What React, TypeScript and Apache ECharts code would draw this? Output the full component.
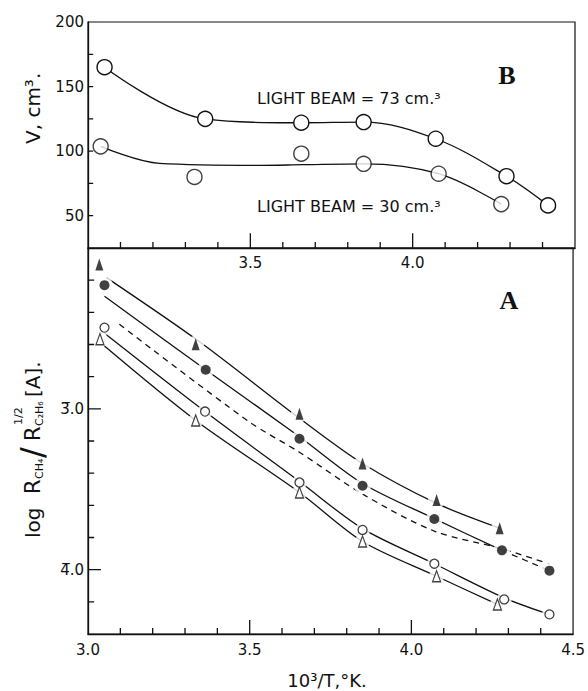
import React, { useEffect, useRef } from 'react';
import * as echarts from 'echarts';

// ---------- Panel B (top): V, cm3 vs 10^3/T ----------
const beam73X = [3.051, 3.361, 3.657, 3.849, 4.071, 4.289, 4.417];
const beam73V = [165, 125, 122, 122.5, 109.6, 80.6, 58];
const beam30X = [3.039, 3.328, 3.657, 3.849, 4.08, 4.273];
const beam30V = [103.7, 80, 98, 90.2, 82.5, 59];
const beam30CurveX = [3.039, 3.22, 3.53, 3.66, 3.849, 4.08, 4.273];
const beam30CurveV = [103.7, 90.5, 89, 89.5, 90.2, 82.5, 59];

// ---------- Panel A (bottom): log ratio vs 10^3/T ----------
const filledTriX = [3.035, 3.333, 3.654, 3.849, 4.078, 4.273];
const filledTriY = [-2.103, -2.598, -3.031, -3.34, -3.567, -3.742];
const filledDotX = [3.051, 3.364, 3.654, 3.849, 4.071, 4.28, 4.427];
const filledDotY = [-2.231, -2.757, -3.186, -3.478, -3.685, -3.88, -4.006];
const openDotX = [3.051, 3.362, 3.654, 3.849, 4.071, 4.287, 4.427];
const openDotY = [-2.495, -3.017, -3.458, -3.753, -3.963, -4.185, -4.278];
const openTriX = [3.037, 3.333, 3.654, 3.849, 4.078, 4.266];
const openTriY = [-2.567, -3.072, -3.52, -3.825, -4.041, -4.216];

// curves drawn through the points
const filledTriLineX = [3.057, 3.347, 3.652, 3.849, 4.078, 4.273];
const filledTriLineY = [-2.184, -2.586, -3.056, -3.34, -3.588, -3.742];
const filledDotLineX = [3.051, 3.364, 3.654, 3.849, 4.071, 4.28];
const filledDotLineY = [-2.3, -2.757, -3.173, -3.464, -3.683, -3.88];
const filledDotDashX = [4.28, 4.427];
const filledDotDashY = [-3.88, -4.006];
const dashedCurveX = [3.097, 3.498, 3.654, 3.849, 4.071, 4.28, 4.427];
const dashedCurveY = [-2.474, -3.08, -3.27, -3.53, -3.76, -3.87, -3.965];
const openDotLineX = [3.051, 3.362, 3.654, 3.849, 4.071, 4.287, 4.427];
const openDotLineY = [-2.53, -3.017, -3.452, -3.745, -3.963, -4.175, -4.278];
const openTriLineX = [3.051, 3.333, 3.654, 3.849, 4.078, 4.266];
const openTriLineY = [-2.61, -3.072, -3.52, -3.825, -4.041, -4.216];

// ticks and tick labels
const xMinorTicks = [3.1, 3.2, 3.3, 3.4, 3.6, 3.7, 3.8, 3.9, 4.1, 4.2, 4.3, 4.4];
const xMajorTicks = [3.5, 4.0];
const xLabelsTop = [3.5, 4.0];
const vTicks = [50, 75, 100, 125, 150, 175];
const logMinorTicks = [-4.2, -3.8, -3.6, -3.4, -3.2, -2.8, -2.6, -2.4, -2.2];
const logMajorTicks = [-4.0, -3.0];
const logLabels: Record<string, string> = { '-3': '3\u0305.0', '-4': '4\u0305.0' };

const SANS = "'DejaVu Sans', 'Noto Sans', sans-serif";
const SERIF = "'Liberation Serif', 'DejaVu Serif', serif";
const INK = '#111';

const pairs = (xs: number[], ys: number[]) => xs.map((x, i) => [x, ys[i]]);
const near = (a: number, b: number) => Math.abs(a - b) < 1e-6;

export default function App() {
  const ref = useRef<HTMLDivElement>(null);
  useEffect(() => {
    if (!ref.current) return;
    const chart = echarts.init(ref.current, undefined, { renderer: 'svg' });

    const al = () => ({ show: true, lineStyle: { color: INK, width: 1.3 } });
    const lineBase = {
      type: 'line',
      symbol: 'none',
      smooth: 0.3,
      silent: true,
      z: 2,
      lineStyle: { color: INK, width: 1.3 },
    };
    const halo = (xs: number[], ys: number[], size: number) => ({
      type: 'scatter',
      xAxisIndex: 1,
      yAxisIndex: 1,
      data: pairs(xs, ys),
      symbol: 'circle',
      symbolSize: size,
      itemStyle: { color: '#fff' },
      silent: true,
      z: 3,
    });
    // tick marks: short broken line segments placed through the axis scales
    const ticks = (values: number[], gi: number, dir: 'x' | 'y', anchor: number, len: number) => ({
      type: 'line',
      xAxisIndex: gi,
      yAxisIndex: gi,
      symbol: 'none',
      silent: true,
      clip: false,
      connectNulls: false,
      z: 10,
      lineStyle: { color: INK, width: 1.3 },
      data: values.flatMap((v) =>
        dir === 'x'
          ? [[v, anchor], [v, anchor + len], [v, '-']]
          : [[anchor, v], [anchor + len, v], ['-', v]]
      ),
    });

    const option: any = {
      animation: false,
      grid: [
        { left: 88, right: 13, top: 22, height: 226, show: true, borderColor: INK, borderWidth: 1.2 },
        { left: 88, right: 13, top: 248, height: 386, show: true, borderColor: INK, borderWidth: 1.2 },
      ],
      xAxis: [
        {
          gridIndex: 0, type: 'value', min: 3.0, max: 4.5, interval: 0.5,
          axisLine: al(), axisTick: { show: false }, splitLine: { show: false },
          axisLabel: {
            show: true, color: INK, fontSize: 15, fontFamily: SANS, margin: 7,
            formatter: (v: number) => (xLabelsTop.some((t) => near(t, v)) ? v.toFixed(1) : ''),
          },
        },
        {
          gridIndex: 1, type: 'value', min: 3.0, max: 4.5, interval: 0.5,
          axisLine: al(), axisTick: { show: false }, splitLine: { show: false },
          axisLabel: { show: true, color: INK, fontSize: 15, fontFamily: SANS, margin: 8, formatter: (v: number) => v.toFixed(1) },
        },
      ],
      yAxis: [
        {
          gridIndex: 0, type: 'value', min: 25, max: 200, interval: 25,
          axisLine: al(), axisTick: { show: false }, splitLine: { show: false },
          axisLabel: {
            show: true, color: INK, fontSize: 15, fontFamily: SANS, margin: 4,
            formatter: (v: number) => (Math.round(v) % 50 === 0 ? String(Math.round(v)) : ''),
          },
        },
        {
          gridIndex: 1, type: 'value', min: -4.4, max: -2.0, interval: 0.2,
          axisLine: al(), axisTick: { show: false }, splitLine: { show: false },
          axisLabel: {
            show: true, color: INK, fontSize: 15, fontFamily: SANS, margin: 4,
            formatter: (v: number) => {
              const r = Math.round(v);
              return near(v, r) && logLabels[String(r)] ? logLabels[String(r)] : '';
            },
          },
        },
      ],
      series: [
        // ---- ticks (lengths in axis units: ~6 px minor, ~14 px major) ----
        ticks(xMinorTicks, 0, 'x', 25, 4.7),
        ticks(xMajorTicks, 0, 'x', 25, 11.5),
        ticks(vTicks, 0, 'y', 3.0, 0.016),
        ticks(xMinorTicks, 1, 'x', -4.4, 0.037),
        ticks(xMajorTicks, 1, 'x', -4.4, 0.087),
        ticks(logMinorTicks, 1, 'y', 3.0, 0.019),
        ticks(logMajorTicks, 1, 'y', 3.0, 0.04),
        // ---- panel B ----
        {
          type: 'line', xAxisIndex: 0, yAxisIndex: 0, data: pairs(beam30CurveX, beam30CurveV),
          symbol: 'none', smooth: 0.35, silent: true, z: 2, lineStyle: { color: INK, width: 1.3 },
        },
        {
          type: 'line', xAxisIndex: 0, yAxisIndex: 0, data: pairs(beam73X, beam73V),
          smooth: 0.35, silent: true, z: 3, symbol: 'circle', symbolSize: 15, showSymbol: true,
          lineStyle: { color: INK, width: 1.3 },
          itemStyle: { color: '#fff', borderColor: INK, borderWidth: 1.4 },
        },
        {
          type: 'scatter', xAxisIndex: 0, yAxisIndex: 0, data: pairs(beam30X, beam30V),
          symbol: 'circle', symbolSize: 15, silent: true, z: 4,
          itemStyle: { color: '#fff', borderColor: INK, borderWidth: 1.4 },
        },
        // ---- panel A: curves ----
        { ...lineBase, xAxisIndex: 1, yAxisIndex: 1, data: pairs(filledTriLineX, filledTriLineY) },
        { ...lineBase, xAxisIndex: 1, yAxisIndex: 1, data: pairs(filledDotLineX, filledDotLineY) },
        { ...lineBase, xAxisIndex: 1, yAxisIndex: 1, data: pairs(filledDotDashX, filledDotDashY), lineStyle: { color: INK, width: 1.3, type: [6, 5] } },
        { ...lineBase, xAxisIndex: 1, yAxisIndex: 1, data: pairs(dashedCurveX, dashedCurveY), lineStyle: { color: INK, width: 1.3, type: [6, 5] } },
        { ...lineBase, xAxisIndex: 1, yAxisIndex: 1, data: pairs(openDotLineX, openDotLineY) },
        { ...lineBase, xAxisIndex: 1, yAxisIndex: 1, data: pairs(openTriLineX, openTriLineY) },
        // ---- panel A: white gaps around markers ----
        halo(filledTriX, filledTriY, 17),
        halo(filledDotX, filledDotY, 17),
        halo(openDotX, openDotY, 15),
        halo(openTriX, openTriY, 15),
        // ---- panel A: markers ----
        {
          type: 'scatter', xAxisIndex: 1, yAxisIndex: 1, data: pairs(filledTriX, filledTriY),
          symbol: 'triangle', symbolSize: [8, 12], silent: true, z: 5, itemStyle: { color: INK },
        },
        {
          type: 'scatter', xAxisIndex: 1, yAxisIndex: 1, data: pairs(filledDotX, filledDotY),
          symbol: 'circle', symbolSize: 10, silent: true, z: 5, itemStyle: { color: INK },
        },
        {
          type: 'scatter', xAxisIndex: 1, yAxisIndex: 1, data: pairs(openTriX, openTriY),
          symbol: 'triangle', symbolSize: [8, 11], silent: true, z: 5,
          itemStyle: { color: '#fff', borderColor: INK, borderWidth: 1.3 },
        },
        {
          type: 'scatter', xAxisIndex: 1, yAxisIndex: 1, data: pairs(openDotX, openDotY),
          symbol: 'circle', symbolSize: 9, silent: true, z: 6,
          itemStyle: { color: '#fff', borderColor: INK, borderWidth: 1.3 },
        },
      ],
      graphic: [
        { type: 'text', x: 257, y: 98, style: { text: 'LIGHT BEAM = 73 cm.\u00b3', fontSize: 16, fontFamily: SANS, fill: INK, verticalAlign: 'middle', align: 'left' } },
        { type: 'text', x: 257, y: 206, style: { text: 'LIGHT BEAM = 30 cm.\u00b3', fontSize: 16, fontFamily: SANS, fill: INK, verticalAlign: 'middle', align: 'left' } },
        { type: 'text', x: 507, y: 75, style: { text: 'B', fontSize: 26, fontWeight: 'bold', fontFamily: SERIF, fill: INK, verticalAlign: 'middle', align: 'center' } },
        { type: 'text', x: 509, y: 300, style: { text: 'A', fontSize: 26, fontWeight: 'bold', fontFamily: SERIF, fill: INK, verticalAlign: 'middle', align: 'center' } },
        { type: 'text', x: 327, y: 680, style: { text: '10\u00b3/T,\u00b0K.', fontSize: 18, fontFamily: SANS, fill: INK, verticalAlign: 'middle', align: 'center' } },
        {
          type: 'group', x: 33, y: 144, rotation: Math.PI / 2,
          children: [
            { type: 'text', x: 0, y: 0, style: { text: 'V, cm\u00b3.', fontSize: 20, fontFamily: SANS, fill: INK, verticalAlign: 'middle', align: 'left' } },
          ],
        },
        {
          type: 'group', x: 33, y: 538, rotation: Math.PI / 2,
          children: [
            { type: 'text', x: 0, y: 0, style: { text: 'log', fontSize: 20, fontFamily: SANS, fill: INK, verticalAlign: 'middle', align: 'left' } },
            { type: 'text', x: 44, y: 0, style: { text: 'R', fontSize: 21, fontFamily: SANS, fill: INK, verticalAlign: 'middle', align: 'left' } },
            { type: 'text', x: 59, y: 6, style: { text: 'CH\u2084', fontSize: 11, fontFamily: SANS, fill: INK, verticalAlign: 'middle', align: 'left' } },
            { type: 'text', x: 80, y: -1, style: { text: '/', fontSize: 32, fontFamily: SANS, fill: INK, verticalAlign: 'middle', align: 'left' } },
            { type: 'text', x: 97, y: 0, style: { text: 'R', fontSize: 21, fontFamily: SANS, fill: INK, verticalAlign: 'middle', align: 'left' } },
            { type: 'text', x: 113, y: -15, style: { text: '1/2', fontSize: 11, fontFamily: SANS, fill: INK, verticalAlign: 'middle', align: 'left' } },
            { type: 'text', x: 112, y: 6, style: { text: 'C\u2082H\u2086', fontSize: 11, fontFamily: SANS, fill: INK, verticalAlign: 'middle', align: 'left' } },
            { type: 'text', x: 141, y: 0, style: { text: '[A].', fontSize: 20, fontFamily: SANS, fill: INK, verticalAlign: 'middle', align: 'left' } },
          ],
        },
      ],
    };

    chart.setOption(option);
    return () => chart.dispose();
  }, []);

  return (
    <div
      ref={ref}
      style={{ position: 'absolute', left: 0, top: 0, width: 588, height: 691, background: '#fff' }}
    />
  );
}
